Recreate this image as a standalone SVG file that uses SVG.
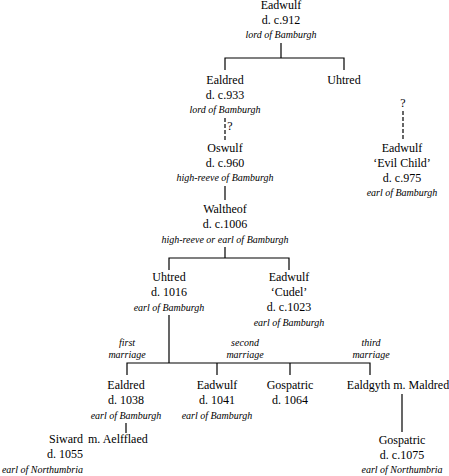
<svg xmlns="http://www.w3.org/2000/svg" width="449" height="476" viewBox="0 0 449 476" font-family="'Liberation Serif', 'Times New Roman', Times, 'DejaVu Serif', 'Noto Serif', FreeSerif, serif">
<style>
text{fill:#000;text-anchor:middle}
.n{font-size:12px}
.i{font-size:10px;font-style:italic}
.r{text-anchor:end}
.s{text-anchor:start}
.l{stroke:#000;stroke-width:1.2;fill:none}
.d{stroke:#000;stroke-width:1.2;fill:none;stroke-dasharray:4,2}
</style>
<rect width="449" height="476" fill="#fff"/>
<g id="connectors">
<path class="l" d="M281,43V58M225,70V58H344V70"/>
<path class="d" d="M225,118V142"/>
<path class="l" d="M225,186V200"/>
<path class="l" d="M225,247V258M169,270V258H289V270"/>
<path class="l" d="M169,315V363M127,375V363H370V375M217,363V375M290,363V375"/>
<path class="l" d="M126,423V433"/>
<path class="l" d="M402,394V432"/>
<path class="d" d="M403,111V140"/>
</g>
<g id="eadwulf912"><text class="n" x="281" y="9">Eadwulf</text><text class="n" x="281" y="24">d. c.912</text><text class="i" x="281" y="38">lord of Bamburgh</text></g>
<g id="ealdred933"><text class="n" x="225" y="84">Ealdred</text><text class="n" x="225" y="99">d. c.933</text><text class="i" x="225" y="113">lord of Bamburgh</text></g>
<g id="uhtred1"><text class="n" x="344" y="84">Uhtred</text></g>
<g id="q1"><text class="n" x="230" y="130">?</text></g>
<g id="oswulf"><text class="n" x="225" y="152">Oswulf</text><text class="n" x="225" y="167">d. c.960</text><text class="i" x="225" y="181">high-reeve of Bamburgh</text></g>
<g id="waltheof"><text class="n" x="225" y="213">Waltheof</text><text class="n" x="225" y="228">d. c.1006</text><text class="i" x="225" y="243">high-reeve or earl of Bamburgh</text></g>
<g id="q2"><text class="n" x="403" y="107">?</text></g>
<g id="eadwulf975"><text class="n" x="402" y="152">Eadwulf</text><text class="n" x="402" y="167">‘Evil Child’</text><text class="n" x="402" y="182">d. c.975</text><text class="i" x="402" y="196">earl of Bamburgh</text></g>
<g id="uhtred1016"><text class="n" x="169" y="281">Uhtred</text><text class="n" x="169" y="296">d. 1016</text><text class="i" x="169" y="311">earl of Bamburgh</text></g>
<g id="eadwulf1023"><text class="n" x="289" y="281">Eadwulf</text><text class="n" x="289" y="296">‘Cudel’</text><text class="n" x="289" y="311">d. c.1023</text><text class="i" x="289" y="326">earl of Bamburgh</text></g>
<g id="marriages"><text class="i" x="127" y="346">first</text><text class="i" x="127" y="358">marriage</text><text class="i" x="245" y="346">second</text><text class="i" x="245" y="358">marriage</text><text class="i" x="371" y="346">third</text><text class="i" x="371" y="358">marriage</text></g>
<g id="ealdred1038"><text class="n" x="126" y="389">Ealdred</text><text class="n" x="126" y="404">d. 1038</text><text class="i" x="126" y="419">earl of Bamburgh</text></g>
<g id="eadwulf1041"><text class="n" x="217" y="389">Eadwulf</text><text class="n" x="217" y="404">d. 1041</text><text class="i" x="217" y="419">earl of Bamburgh</text></g>
<g id="gospatric1064"><text class="n" x="290" y="389">Gospatric</text><text class="n" x="290" y="404">d. 1064</text></g>
<g id="ealdgyth"><text class="n" x="398" y="389">Ealdgyth m. Maldred</text></g>
<g id="siward"><text class="n r" x="83" y="443">Siward</text><text class="n r" x="83" y="458">d. 1055</text><text class="i r" x="83" y="473">earl of Northumbria</text></g>
<g id="aelfflaed"><text class="n s" x="88" y="443">m. Aelfflaed</text></g>
<g id="gospatric1075"><text class="n" x="402" y="444">Gospatric</text><text class="n" x="402" y="459">d. c.1075</text><text class="i" x="402" y="473">earl of Northumbria</text></g>
</svg>
